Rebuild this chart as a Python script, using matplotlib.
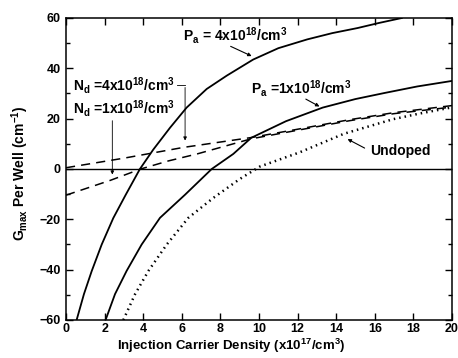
import numpy as np
import matplotlib
matplotlib.use("Agg")
import matplotlib.pyplot as plt

plt.rcParams['font.family'] = ['Liberation Sans', 'DejaVu Sans']
plt.rcParams['font.weight'] = 'bold'
plt.rcParams['mathtext.default'] = 'regular'

# P_a = 4x10^18 /cm^3 (solid, upper)
x_pa4 = [0.55, 0.93, 1.33, 1.85, 2.45, 3.09, 3.83, 4.52, 5.39, 6.25, 7.29, 8.33, 9.7, 11.0, 12.5, 13.8, 15.1, 16.2, 17.4]
y_pa4 = [-60, -49.7, -40.6, -30, -19.5, -10.3, 0, 7.7, 16.4, 24.4, 31.8, 37.1, 43.5, 48.0, 51.5, 54.0, 56.0, 58.0, 60]

# P_a = 1x10^18 /cm^3 (solid, lower)
x_pa1 = [2.05, 2.54, 3.14, 3.92, 4.87, 6.17, 7.55, 8.67, 9.6, 11.4, 13.3, 15.0, 16.5, 18.2, 20]
y_pa1 = [-60, -49.7, -40.5, -30, -19.4, -10.2, 0, 6.0, 12.4, 19.0, 24.4, 27.8, 30.2, 32.8, 35]

# Undoped (dotted)
x_und = [2.97, 3.58, 4.27, 5.22, 6.34, 7.63, 9.0, 10.05, 12.1, 14.4, 16.95, 18.3, 20]
y_und = [-60, -49.7, -40.5, -30, -19.4, -11.5, -4.0, 1.0, 6.6, 14.0, 19.8, 22.0, 24.5]

# N_d = 4x10^18 /cm^3 (dashed, starts near 0)
x_nd4 = [0, 3, 6.1, 9.6, 12, 14.7, 17, 20]
y_nd4 = [0.5, 4.3, 8.6, 12.5, 15.8, 19.6, 22.4, 25.2]

# N_d = 1x10^18 /cm^3 (dashed, starts near -10)
x_nd1 = [0, 2.3, 3.87, 5.3, 6.8, 8.2, 9.6, 12, 14.7, 17, 20]
y_nd1 = [-10.4, -4.5, 0, 3.2, 6.0, 9.0, 12.0, 15.4, 19.2, 22.0, 24.6]

xticks = np.arange(0, 21, 2)
yticks = np.arange(-60, 61, 20)

fig = plt.figure(figsize=(4.58, 3.58), dpi=100)
ax = fig.add_axes([66/458, 1-320/358, 386/458, 302/358])

ax.axhline(0, color='black', lw=1.0)
ax.plot(x_pa4, y_pa4, color='black', lw=1.3)
ax.plot(x_pa1, y_pa1, color='black', lw=1.3)
ax.plot(x_und, y_und, color='black', lw=1.8, linestyle=(0, (0.6, 1.6)))
ax.plot(x_nd4, y_nd4, color='black', lw=1.1, linestyle=(0, (6, 4)))
ax.plot(x_nd1, y_nd1, color='black', lw=1.1, linestyle=(0, (6, 4)))

ax.set_xlim(0, 20)
ax.set_ylim(-60, 60)
ax.set_xticks(xticks)
ax.set_yticks(yticks)
ax.set_yticks(np.arange(-50, 60, 20), minor=True)
ax.tick_params(which='both', direction='in', top=True, right=True, labelsize=9)
ax.tick_params(which='major', length=5, width=1)
ax.tick_params(which='minor', length=3, width=1)
ax.tick_params(axis='y', pad=4)
ax.tick_params(axis='x', pad=2)
for s in ax.spines.values():
    s.set_linewidth(1.1)

fs = 10
arw = dict(arrowstyle='-|>', lw=0.8, color='black', mutation_scale=5)
ax.text(8.76, 53.2, r'P$_a$ = 4x10$^{18}$/cm$^3$', fontsize=fs, ha='center', va='center')
ax.annotate('', xy=(9.75, 44.4), xytext=(8.4, 49.2), arrowprops=arw)
ax.text(12.2, 31.9, r'P$_a$ =1x10$^{18}$/cm$^3$', fontsize=fs, ha='center', va='center')
ax.annotate('', xy=(13.26, 24.3), xytext=(12.3, 28.3), arrowprops=arw)

arw2 = dict(arrowstyle='-|>', lw=0.6, color='black', mutation_scale=5)
ax.text(0.36, 33.1, r'N$_d$ =4x10$^{18}$/cm$^3$', fontsize=fs, ha='left', va='center')
ax.plot([5.75, 6.17], [33.5, 33.5], color='black', lw=0.6)
ax.annotate('', xy=(6.17, 10.2), xytext=(6.17, 33.5), arrowprops=arw2)
ax.text(0.36, 23.9, r'N$_d$ =1x10$^{18}$/cm$^3$', fontsize=fs, ha='left', va='center')
ax.annotate('', xy=(2.4, -3.3), xytext=(2.4, 20.3), arrowprops=arw2)

ax.text(15.75, 7.0, 'Undoped', fontsize=fs, ha='left', va='center')
ax.annotate('', xy=(14.46, 12.4), xytext=(15.6, 7.8), arrowprops=arw)

fig.text(20/458, 1-173/358, r'G$_{max}$ Per Well (cm$^{-1}$)', fontsize=10,
         rotation=90, ha='center', va='center')
fig.text(231/458, 1-346/358, r'Injection Carrier Density (x10$^{17}$/cm$^3$)', fontsize=9.5,
         ha='center', va='center')

fig.savefig('out.png', dpi=100)
